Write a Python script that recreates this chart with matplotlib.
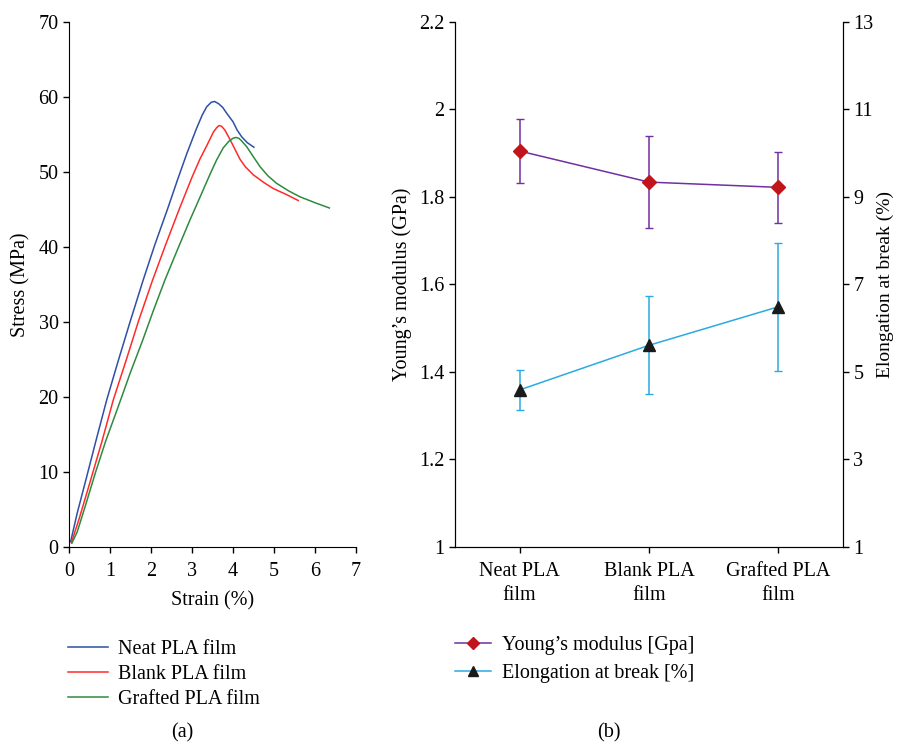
import matplotlib
matplotlib.use("Agg")
from matplotlib import pyplot as plt
from matplotlib.lines import Line2D

plt.rcParams['font.family'] = ['Liberation Serif', 'DejaVu Serif']
plt.rcParams['font.size'] = 14.5

# (a) stress-strain curves
neat_strain = [0.04, 0.2, 0.41, 0.65, 0.92, 1.2, 1.5, 1.81, 2.1, 2.4, 2.65, 2.87,
               3.11, 3.25, 3.36, 3.47, 3.55, 3.65, 3.75, 3.85, 4.0, 4.1, 4.21, 4.35, 4.51]
neat_stress = [0.7, 4.5, 8.9, 14.0, 19.6, 24.8, 30.2, 35.6, 40.4, 45.0, 49.0, 52.4,
               55.8, 57.6, 58.7, 59.3, 59.4, 59.1, 58.6, 57.8, 56.7, 55.6, 54.7, 53.9, 53.3]
blank_strain = [0.06, 0.25, 0.5, 0.8, 1.08, 1.4, 1.7, 2.04, 2.35, 2.7, 3.0, 3.2, 3.36,
                3.52, 3.6, 3.66, 3.72, 3.8, 3.93, 4.05, 4.17, 4.3, 4.5, 4.75, 4.98, 5.3, 5.59]
blank_stress = [0.6, 3.8, 8.4, 14.0, 19.6, 25.0, 30.2, 35.6, 40.2, 45.2, 49.3, 51.8, 53.5,
                55.3, 55.9, 56.2, 56.1, 55.6, 54.3, 53.0, 51.7, 50.7, 49.6, 48.6, 47.8, 47.0, 46.2]
grafted_strain = [0.07, 0.2, 0.4, 0.65, 0.9, 1.2, 1.5, 1.8, 2.05, 2.34, 2.65, 2.95, 3.2, 3.44,
                  3.6, 3.76, 3.9, 4.0, 4.07, 4.14, 4.2, 4.33, 4.5, 4.66, 4.85, 5.06, 5.35, 5.63,
                  6.0, 6.35]
grafted_stress = [0.5, 2.0, 5.5, 10.0, 14.2, 18.7, 23.3, 27.6, 31.4, 35.6, 39.7, 43.6, 46.7, 49.7,
                  51.6, 53.2, 54.1, 54.5, 54.6, 54.5, 54.2, 53.4, 52.0, 50.7, 49.5, 48.5, 47.5, 46.7,
                  45.9, 45.2]

# (b) mechanical properties
films = ['Neat PLA\nfilm', 'Blank PLA\nfilm', 'Grafted PLA\nfilm']
modulus = [1.905, 1.834, 1.822]
modulus_err = [0.074, 0.105, 0.081]
elongation = [4.59, 5.61, 6.49]
elongation_err = [0.45, 1.12, 1.46]

purple = '#7030A0'
red = '#C0161B'
cyan = '#29ABE2'
black = '#1A1A1A'

fig = plt.figure(figsize=(8.97, 7.45), dpi=100)

ax1 = fig.add_axes([0.0769, 0.2658, 0.3200, 0.7047])
ax1.plot(neat_strain, neat_stress, color='#2F4FA8', lw=1.1, label='Neat PLA film')
ax1.plot(blank_strain, blank_stress, color='#FF2A2A', lw=1.1, label='Blank PLA film')
ax1.plot(grafted_strain, grafted_stress, color='#2E8B3E', lw=1.1, label='Grafted PLA film')
ax1.set_xlim(0, 7)
ax1.set_ylim(0, 70)
ax1.set_xticks(range(0, 8))
ax1.set_yticks(range(0, 71, 10))
ax1.set_xlabel('Strain (%)', labelpad=7)
ax1.set_ylabel('Stress (MPa)', labelpad=6)
ax1.spines['top'].set_visible(False)
ax1.spines['right'].set_visible(False)
ax1.tick_params(direction='out', length=4, width=1)
ax1.tick_params(axis='x', pad=7)
ax1.legend(loc='upper left', bbox_to_anchor=(-0.039, -0.158), frameon=False,
           handlelength=2.0, handletextpad=0.5, labelspacing=0.3, borderpad=0)
fig.text(0.203, 0.016, '(a)', ha='center', va='center')

ax2 = fig.add_axes([0.5072, 0.2658, 0.4326, 0.7047])
x = list(range(len(films)))
ax2.errorbar(x, modulus, yerr=modulus_err, color=purple, lw=1.1, capsize=3,
             elinewidth=1.1, marker='D', markersize=7, markerfacecolor=red,
             markeredgecolor=red)
ax2.set_xlim(-0.5, 2.5)
ax2.set_ylim(1, 2.2)
ax2.set_yticks([1, 1.2, 1.4, 1.6, 1.8, 2, 2.2])
ax2.set_yticklabels(['1', '1.2', '1.4', '1.6', '1.8', '2', '2.2'])
ax2.set_xticks(x)
ax2.set_xticklabels(films, linespacing=1.35)
ax2.set_ylabel('Young’s modulus (GPa)', labelpad=5)
ax2.spines['top'].set_visible(False)
ax2.tick_params(direction='out', length=4, width=1)
ax2.tick_params(axis='x', pad=7)

ax3 = ax2.twinx()
ax3.errorbar(x, elongation, yerr=elongation_err, color=cyan, lw=1.1, capsize=3,
             elinewidth=1.1, marker='^', markersize=8, markerfacecolor=black,
             markeredgecolor=black)
ax3.set_ylim(1, 13)
ax3.set_yticks(range(1, 14, 2))
ax3.set_ylabel('Elongation at break (%)', rotation=90, labelpad=2, fontsize=14)
ax3.spines['top'].set_visible(False)
ax3.tick_params(direction='out', length=4, width=1)

handles = [Line2D([], [], color=purple, lw=1.1, marker='D', markersize=6,
                  markerfacecolor=red, markeredgecolor=red),
           Line2D([], [], color=cyan, lw=1.1, marker='^', markersize=7,
                  markerfacecolor=black, markeredgecolor=black)]
ax2.legend(handles, ['Young’s modulus [Gpa]', 'Elongation at break [%]'],
           loc='upper left', bbox_to_anchor=(-0.026, -0.15), frameon=False,
           handlelength=1.8, handletextpad=0.55, labelspacing=0.45, borderpad=0)
fig.text(0.679, 0.016, '(b)', ha='center', va='center')

fig.savefig('out.png', dpi=100)
